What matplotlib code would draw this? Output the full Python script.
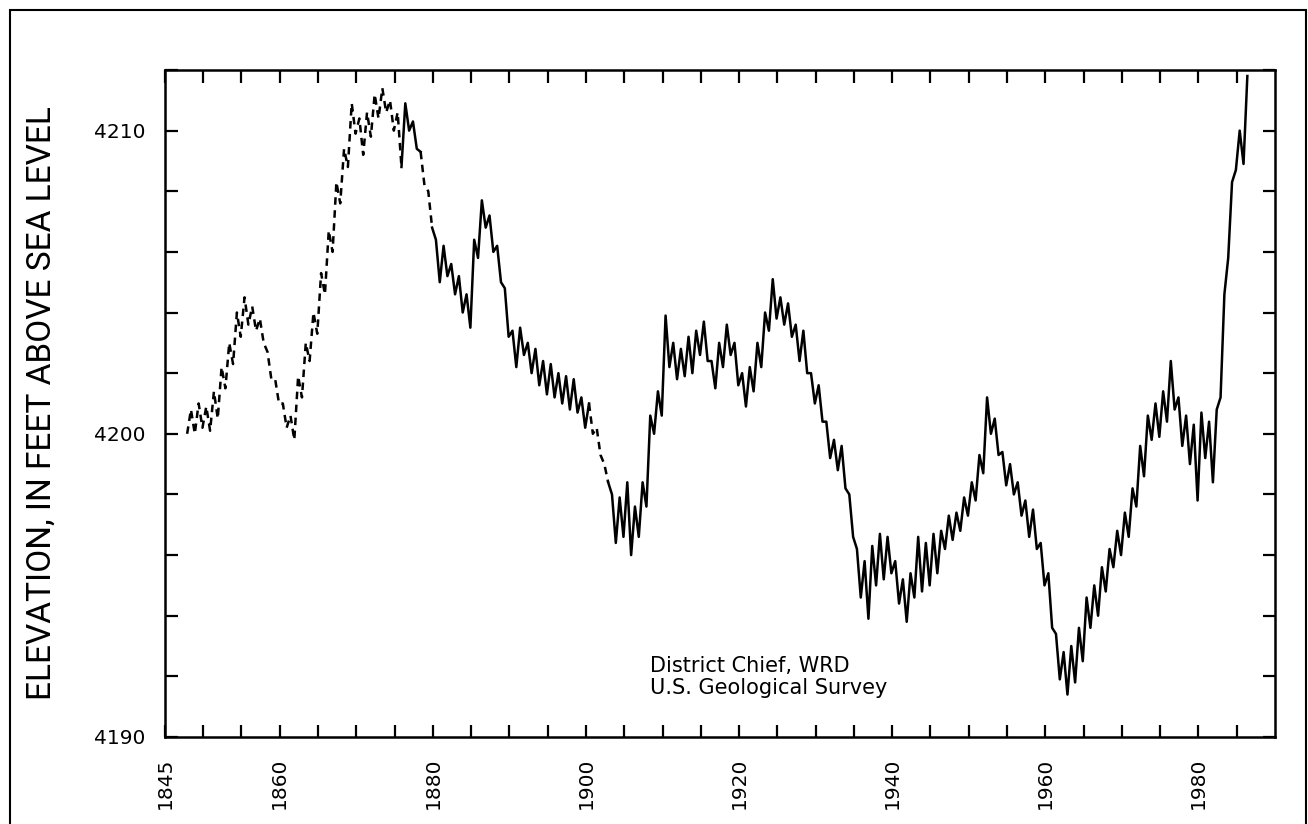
import numpy as np
import matplotlib.pyplot as plt
from matplotlib.patches import Rectangle

# Great Salt Lake water level (spring high / autumn low each year)
years = list(range(1847, 1987))
spring_high = [
    np.nan, 4200.8, 4201.0, 4200.9, 4201.4, 4202.2, 4203.0, 4204.0, 4204.5, 4204.2,  # 1847-1856
    4203.8, 4202.7, 4201.8, 4201.0, 4200.6, 4201.9, 4203.0, 4204.0, 4205.3, 4206.7,  # 1857-1866
    4208.3, 4209.4, 4210.9, 4210.4, 4210.6, 4211.2, 4211.4, 4211.0, 4210.6, 4210.9,  # 1867-1876
    4210.3, 4209.3, 4208.0, 4206.4, 4206.2, 4205.6, 4205.2, 4204.6, 4206.4, 4207.7,  # 1877-1886
    4207.2, 4206.2, 4204.8, 4203.4, 4203.5, 4203.0, 4202.8, 4202.4, 4202.3, 4202.0,  # 1887-1896
    4201.9, 4201.8, 4201.2, 4201.0, 4200.2, 4199.0, 4198.0, 4197.9, 4198.4, 4197.6,  # 1897-1906
    4198.4, 4200.6, 4201.4, 4203.9, 4203.0, 4202.8, 4203.2, 4203.4, 4203.7, 4202.4,  # 1907-1916
    4203.0, 4203.6, 4203.0, 4202.0, 4202.2, 4203.0, 4204.0, 4205.1, 4204.5, 4204.3,  # 1917-1926
    4203.6, 4203.4, 4202.0, 4201.6, 4200.4, 4199.8, 4199.6, 4198.0, 4196.2, 4195.8,  # 1927-1936
    4196.3, 4196.7, 4196.6, 4195.8, 4195.2, 4195.4, 4196.6, 4196.4, 4196.7, 4196.8,  # 1937-1946
    4197.3, 4197.4, 4197.9, 4198.4, 4199.3, 4201.2, 4200.5, 4199.4, 4199.0, 4198.4,  # 1947-1956
    4197.8, 4197.5, 4196.4, 4195.4, 4193.4, 4192.8, 4193.0, 4193.6, 4194.6, 4195.0,  # 1957-1966
    4195.6, 4196.2, 4196.8, 4197.4, 4198.2, 4199.6, 4200.6, 4201.0, 4201.4, 4202.4,  # 1967-1976
    4201.2, 4200.6, 4200.3, 4200.7, 4200.4, 4200.8, 4204.6, 4208.3, 4210.0, 4211.8,  # 1977-1986
]
autumn_low = [
    4200.0, 4200.0, 4200.2, 4200.1, 4200.5, 4201.5, 4202.3, 4203.2, 4203.6, 4203.4,  # 1847-1856
    4203.0, 4201.8, 4201.0, 4200.2, 4199.8, 4201.2, 4202.4, 4203.3, 4204.6, 4206.0,  # 1857-1866
    4207.6, 4208.8, 4209.9, 4209.2, 4209.8, 4210.4, 4210.6, 4210.0, 4208.8, 4210.0,  # 1867-1876
    4209.4, 4208.2, 4206.8, 4205.0, 4205.2, 4204.6, 4204.0, 4203.5, 4205.8, 4206.8,  # 1877-1886
    4206.0, 4205.0, 4203.2, 4202.2, 4202.6, 4202.0, 4201.6, 4201.3, 4201.2, 4201.0,  # 1887-1896
    4200.8, 4200.7, 4200.2, 4200.0, 4199.3, 4198.4, 4196.4, 4196.6, 4196.0, 4196.6,  # 1897-1906
    4197.6, 4200.0, 4200.6, 4202.2, 4201.8, 4201.9, 4202.0, 4202.6, 4202.4, 4201.5,  # 1907-1916
    4202.2, 4202.6, 4201.6, 4200.9, 4201.4, 4202.2, 4203.4, 4203.8, 4203.6, 4203.2,  # 1917-1926
    4202.4, 4202.0, 4201.0, 4200.4, 4199.2, 4198.8, 4198.2, 4196.6, 4194.6, 4193.9,  # 1927-1936
    4195.0, 4195.2, 4195.4, 4194.4, 4193.8, 4194.6, 4194.8, 4195.0, 4195.4, 4196.2,  # 1937-1946
    4196.5, 4196.8, 4197.3, 4197.8, 4198.7, 4200.0, 4199.3, 4198.3, 4198.0, 4197.3,  # 1947-1956
    4196.6, 4196.2, 4195.0, 4193.6, 4191.9, 4191.4, 4191.8, 4192.5, 4193.6, 4194.0,  # 1957-1966
    4194.8, 4195.6, 4196.0, 4196.6, 4197.6, 4198.6, 4199.8, 4199.9, 4200.4, 4200.8,  # 1967-1976
    4199.6, 4199.0, 4197.8, 4199.2, 4198.4, 4201.2, 4205.8, 4208.7, 4208.9, np.nan,  # 1977-1986
]
# periods drawn dashed (estimated record)
estimated_periods = [(1847.0, 1876.0), (1878.5, 1880.0), (1900.5, 1903.1)]

x_ticks = list(range(1845, 1990, 5))
x_labeled = [1845, 1860, 1880, 1900, 1920, 1940, 1960, 1980]
y_ticks = list(range(4190, 4213, 2))
y_labeled = [4190, 4200, 4210]

# interleave highs and lows into one time series
t, z = [], []
for yr, hi, lo in zip(years, spring_high, autumn_low):
    if not np.isnan(hi):
        t.append(yr + 0.4)
        z.append(hi)
    if not np.isnan(lo):
        t.append(yr + 0.9)
        z.append(lo)


def is_estimated(a):
    return any(s <= a < e for s, e in estimated_periods)


fig = plt.figure(figsize=(13.08, 8.24), dpi=100)
ax = fig.add_axes([0.1261, 0.1056, 0.8486, 0.8095])

# draw the record in runs of same style
flags = [is_estimated((t[i] + t[i + 1]) / 2) for i in range(len(t) - 1)]
start = 0
for i in range(1, len(flags) + 1):
    if i == len(flags) or flags[i] != flags[start]:
        ls = (0, (3.0, 2.2)) if flags[start] else '-'
        ax.plot(t[start:i + 1], z[start:i + 1], color='black', lw=1.8, ls=ls)
        start = i

ax.set_xlim(1845, 1990)
ax.set_ylim(4190, 4212)

ax.set_xticks(x_ticks)
ax.set_xticklabels([str(v) if v in x_labeled else '' for v in x_ticks], rotation=90)
ax.set_yticks(y_ticks)
ax.set_yticklabels([str(v) if v in y_labeled else '' for v in y_ticks])
ax.tick_params(axis='both', direction='in', length=9, width=1.6,
               top=True, right=True, labelsize=14.5, colors='black')
ax.tick_params(axis='x', pad=15)
ax.tick_params(axis='y', pad=14)
for s in ax.spines.values():
    s.set_linewidth(1.8)

ax.set_ylabel('ELEVATION, IN FEET ABOVE SEA LEVEL', fontsize=24,
              family=['Roboto', 'DejaVu Sans'], color='black')
ax.yaxis.set_label_coords(-0.097, 0.5)

ax.text(0.437, 0.122, 'District Chief, WRD\nU.S. Geological Survey',
        transform=ax.transAxes, fontsize=15, va='top', ha='left', linespacing=1.15)

# page frame
fig.patches.append(Rectangle((0.008, -0.05), 0.9905, 1.038, transform=fig.transFigure,
                             fill=False, lw=1.5, edgecolor='black'))

fig.savefig('out.png', dpi=100)
